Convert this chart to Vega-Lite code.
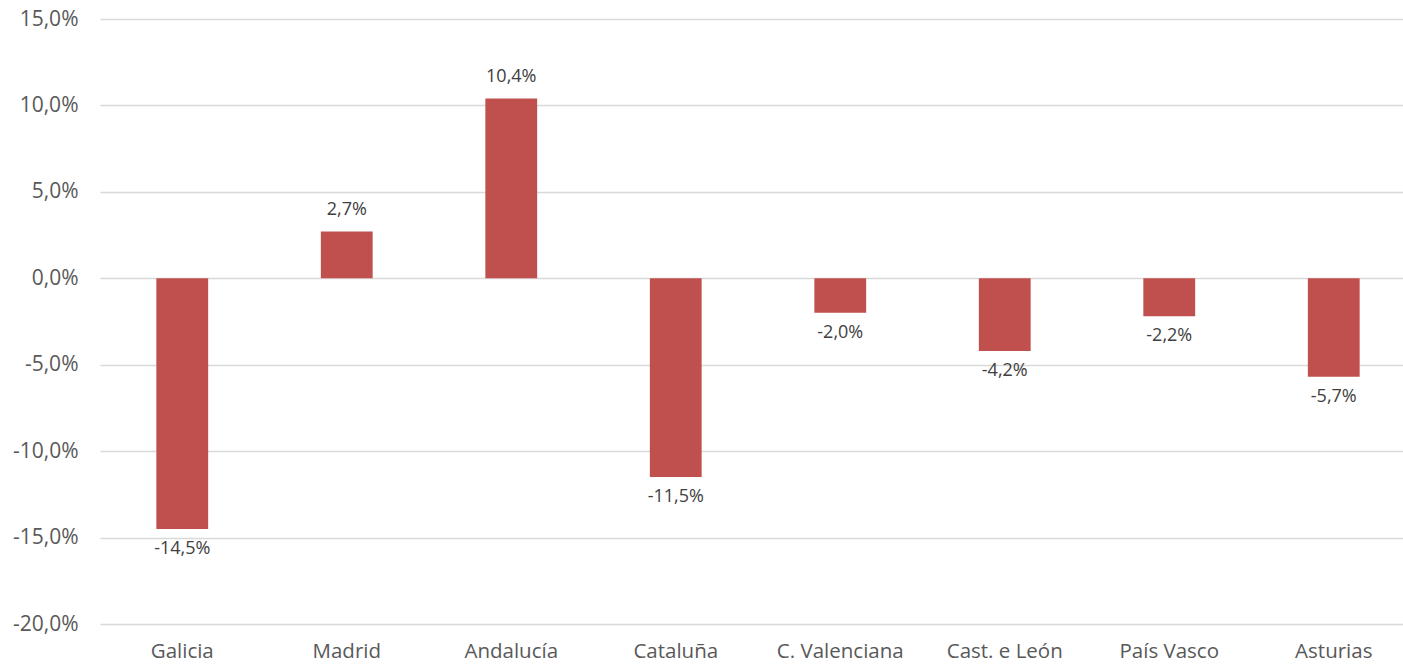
{
  "$schema": "https://vega.github.io/schema/vega-lite/v6.json",
  "autosize": "none",
  "width": 1316,
  "height": 605,
  "padding": {"left": 100, "top": 19, "right": 0, "bottom": 40},
  "background": "white",
  "config": {
    "locale": {"number": {"decimal": ",", "thousands": ".", "grouping": [3], "currency": ["", " €"], "minus": "-"}},
    "view": {"stroke": null},
    "font": "Open Sans"
  },
  "data": {
    "values": [
      {"region": "Galicia", "value": -0.145},
      {"region": "Madrid", "value": 0.027},
      {"region": "Andalucía", "value": 0.104},
      {"region": "Cataluña", "value": -0.115},
      {"region": "C. Valenciana", "value": -0.020},
      {"region": "Cast. e León", "value": -0.042},
      {"region": "País Vasco", "value": -0.022},
      {"region": "Asturias", "value": -0.057}
    ]
  },
  "encoding": {
    "x": {
      "field": "region", "type": "nominal", "sort": null,
      "scale": {"paddingInner": 0.685, "paddingOuter": 0.3425},
      "axis": {"title": null, "domain": false, "ticks": false, "labelAngle": 0, "labelFontSize": 20.5, "labelColor": "#595959", "labelPadding": 17, "labelFont": "Open Sans"}
    },
    "y": {
      "field": "value", "type": "quantitative",
      "scale": {"domain": [-0.2, 0.15], "nice": false, "zero": false},
      "axis": {"title": null, "format": ".1%", "values": [-0.2, -0.15, -0.1, -0.05, 0, 0.05, 0.1, 0.15], "domain": false, "ticks": false, "labelFontSize": 21, "labelColor": "#595959", "labelPadding": 22, "gridColor": "#d9d9d9", "gridWidth": 1.5, "labelFont": "Open Sans"}
    }
  },
  "layer": [
    {"mark": {"type": "bar", "color": "#C0504D"}, "encoding": {"y2": {"datum": 0}}},
    {
      "transform": [{"filter": "datum.value >= 0"}],
      "mark": {"type": "text", "baseline": "alphabetic", "dy": -17, "fontSize": 18, "color": "#404040"},
      "encoding": {"text": {"field": "value", "type": "quantitative", "format": ".1%"}}
    },
    {
      "transform": [{"filter": "datum.value < 0"}],
      "mark": {"type": "text", "baseline": "top", "dy": 11, "fontSize": 18, "color": "#404040"},
      "encoding": {"text": {"field": "value", "type": "quantitative", "format": ".1%"}}
    }
  ]
}
